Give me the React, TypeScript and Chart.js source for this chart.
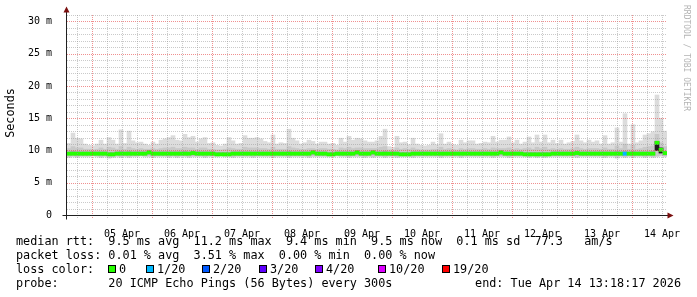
import React, { useEffect, useRef } from "react";
import { Chart, registerables } from "chart.js";

Chart.register(...registerables);

// ---- data (time axis in hours from Apr 04 14:00, bins of 1.6 h) ----
const BIN_HOURS = 1.6;
const TOTAL_HOURS = 240;

const dayLabels = ["05 Apr", "06 Apr", "07 Apr", "08 Apr", "09 Apr", "10 Apr", "11 Apr", "12 Apr", "13 Apr", "14 Apr"];
const yTickLabels = ["0", "5 m", "10 m", "15 m", "20 m", "25 m", "30 m"];

const smokeMax = [
  11.1, 12.7, 11.9, 11.8, 11.0, 10.8, 10.7, 11.0, 11.6, 11.0,
  12.0, 11.6, 11.0, 13.2, 11.1, 13.0, 11.5, 11.2, 11.3, 11.0,
  10.8, 11.3, 11.0, 11.6, 11.8, 12.0, 12.3, 11.6, 11.5, 12.5,
  12.0, 12.2, 11.3, 11.8, 12.0, 11.1, 11.2, 10.8, 10.7, 11.0,
  12.0, 11.5, 11.0, 11.1, 12.3, 11.9, 11.9, 12.0, 11.8, 11.4,
  11.2, 12.4, 11.0, 11.2, 11.1, 13.3, 11.9, 11.5, 11.0, 11.2,
  11.6, 11.4, 11.0, 11.3, 11.3, 11.0, 11.1, 10.8, 11.9, 11.3,
  12.2, 11.6, 11.9, 11.8, 11.5, 11.3, 11.3, 11.5, 12.2, 13.3,
  10.6, 10.5, 12.2, 11.2, 11.3, 10.9, 11.9, 11.0, 10.8, 10.7,
  10.8, 11.3, 10.9, 12.6, 11.0, 11.3, 10.9, 10.8, 11.6, 11.2,
  11.5, 11.5, 11.0, 11.1, 11.3, 11.2, 12.2, 11.3, 11.6, 11.6,
  12.1, 11.2, 11.6, 11.0, 11.3, 12.1, 11.2, 12.4, 11.3, 12.4,
  11.2, 11.6, 11.1, 11.6, 11.0, 11.2, 11.4, 12.4, 11.5, 11.2,
  11.6, 11.3, 11.5, 11.0, 12.3, 11.0, 11.2, 13.5, 11.3, 15.7,
  11.0, 14.0, 11.2, 11.5, 12.4, 12.6, 12.9, 18.6, 15.0, 13.0,
];

const smokeLow = [
  8.9, 9.0, 8.9, 9.0, 9.0, 9.0, 9.1, 9.0, 8.9, 9.0,
  8.8, 8.9, 9.0, 8.9, 9.0, 8.9, 9.0, 9.0, 9.1, 9.0,
  9.0, 8.9, 9.0, 9.0, 9.0, 8.9, 9.0, 8.9, 9.0, 9.0,
  8.9, 9.0, 9.0, 9.0, 8.9, 9.0, 9.0, 9.0, 9.1, 9.0,
  9.0, 8.9, 9.0, 9.0, 9.0, 9.0, 8.9, 9.0, 9.0, 9.0,
  9.0, 8.9, 9.0, 9.0, 9.0, 8.9, 9.0, 9.0, 9.0, 9.0,
  8.9, 9.0, 9.0, 9.0, 9.0, 9.0, 9.0, 9.1, 9.0, 9.0,
  8.9, 9.0, 9.0, 9.0, 8.9, 9.0, 8.9, 9.0, 9.0, 8.9,
  9.0, 9.0, 8.9, 9.0, 9.0, 9.0, 8.9, 9.0, 9.0, 9.0,
  9.0, 9.0, 9.0, 8.9, 9.0, 9.0, 9.0, 9.0, 8.9, 9.0,
  9.0, 9.0, 9.0, 9.0, 9.0, 9.0, 8.9, 9.0, 9.0, 9.0,
  8.9, 9.0, 9.0, 9.0, 9.0, 8.9, 9.0, 8.9, 9.0, 8.9,
  9.0, 9.0, 9.0, 9.0, 9.0, 9.0, 9.0, 8.9, 9.0, 9.0,
  9.0, 9.0, 9.0, 9.0, 8.9, 9.0, 9.0, 8.8, 9.0, 8.9,
  9.0, 8.9, 9.0, 9.0, 8.9, 9.0, 8.9, 9.0, 9.1, 9.0,
];

const smokeMid = [
  10.3, 10.6, 10.4, 10.4, 10.2, 10.2, 10.1, 10.2, 10.4, 10.2,
  10.5, 10.4, 10.2, 10.6, 10.2, 10.5, 10.3, 10.2, 10.3, 10.2,
  10.2, 10.3, 10.2, 10.3, 10.4, 10.4, 10.5, 10.3, 10.3, 10.5,
  10.4, 10.4, 10.2, 10.4, 10.4, 10.2, 10.2, 10.1, 10.1, 10.2,
  10.4, 10.3, 10.2, 10.2, 10.5, 10.4, 10.4, 10.4, 10.3, 10.3,
  10.2, 10.5, 10.2, 10.2, 10.2, 10.6, 10.4, 10.3, 10.2, 10.2,
  10.3, 10.3, 10.2, 10.3, 10.3, 10.2, 10.2, 10.1, 10.4, 10.3,
  10.5, 10.3, 10.4, 10.4, 10.3, 10.3, 10.3, 10.3, 10.5, 10.6,
  10.1, 10.1, 10.4, 10.2, 10.3, 10.2, 10.4, 10.2, 10.1, 10.1,
  10.1, 10.2, 10.2, 10.5, 10.2, 10.3, 10.2, 10.1, 10.3, 10.2,
  10.3, 10.3, 10.2, 10.2, 10.3, 10.2, 10.4, 10.3, 10.3, 10.3,
  10.4, 10.2, 10.3, 10.2, 10.3, 10.4, 10.2, 10.5, 10.3, 10.5,
  10.2, 10.3, 10.2, 10.3, 10.2, 10.2, 10.3, 10.5, 10.3, 10.2,
  10.3, 10.3, 10.3, 10.2, 10.4, 10.2, 10.2, 10.7, 10.3, 11.0,
  10.2, 10.8, 10.2, 10.3, 10.5, 10.6, 10.7, 12.5, 11.2, 10.6,
];

const denseLow = [
  9.3, 9.3, 9.3, 9.3, 9.3, 9.3, 9.3, 9.3, 9.3, 9.3,
  9.2, 9.2, 9.3, 9.3, 9.3, 9.3, 9.3, 9.3, 9.3, 9.3,
  9.4, 9.3, 9.3, 9.3, 9.3, 9.3, 9.3, 9.3, 9.3, 9.3,
  9.3, 9.3, 9.3, 9.3, 9.3, 9.3, 9.3, 9.2, 9.2, 9.2,
  9.2, 9.3, 9.3, 9.3, 9.3, 9.3, 9.3, 9.3, 9.3, 9.3,
  9.3, 9.3, 9.3, 9.3, 9.3, 9.3, 9.3, 9.3, 9.3, 9.3,
  9.3, 9.4, 9.3, 9.3, 9.3, 9.2, 9.2, 9.3, 9.3, 9.3,
  9.3, 9.3, 9.4, 9.3, 9.3, 9.3, 9.4, 9.3, 9.3, 9.3,
  9.3, 9.3, 9.3, 9.2, 9.2, 9.2, 9.3, 9.3, 9.3, 9.3,
  9.3, 9.3, 9.3, 9.3, 9.3, 9.3, 9.3, 9.3, 9.3, 9.3,
  9.3, 9.3, 9.3, 9.3, 9.3, 9.3, 9.3, 9.3, 9.4, 9.3,
  9.3, 9.3, 9.3, 9.3, 9.2, 9.2, 9.2, 9.2, 9.2, 9.2,
  9.2, 9.3, 9.3, 9.3, 9.3, 9.3, 9.3, 9.3, 9.3, 9.3,
  9.3, 9.3, 9.3, 9.3, 9.3, 9.3, 9.3, 9.3, 9.3, 9.3,
  9.3, 9.3, 9.3, 9.3, 9.3, 9.3, 9.3, 10.0, 9.6, 9.3,
];

const denseHigh = [
  9.8, 9.9, 9.8, 9.8, 9.8, 9.8, 9.8, 9.8, 9.8, 9.8,
  9.7, 9.7, 9.8, 9.9, 9.8, 9.9, 9.8, 9.8, 9.8, 9.8,
  10.0, 9.8, 9.8, 9.8, 9.8, 9.8, 9.8, 9.8, 9.8, 9.9,
  9.8, 9.9, 9.8, 9.8, 9.8, 9.8, 9.8, 9.7, 9.7, 9.7,
  9.7, 9.8, 9.8, 9.8, 9.8, 9.8, 9.8, 9.8, 9.8, 9.8,
  9.8, 9.8, 9.8, 9.8, 9.8, 9.9, 9.8, 9.8, 9.8, 9.8,
  9.8, 10.0, 9.8, 9.8, 9.8, 9.7, 9.7, 9.8, 9.8, 9.8,
  9.8, 9.8, 10.0, 9.8, 9.8, 9.8, 10.0, 9.8, 9.8, 9.9,
  9.8, 9.8, 9.8, 9.7, 9.7, 9.7, 9.8, 9.8, 9.8, 9.8,
  9.8, 9.8, 9.8, 9.8, 9.8, 9.8, 9.8, 9.8, 9.8, 9.8,
  9.8, 9.8, 9.8, 9.8, 9.8, 9.8, 9.8, 9.8, 10.0, 9.8,
  9.8, 9.8, 9.8, 9.8, 9.7, 9.7, 9.7, 9.7, 9.7, 9.7,
  9.7, 9.8, 9.8, 9.8, 9.8, 9.8, 9.8, 9.9, 9.8, 9.8,
  9.8, 9.8, 9.8, 9.8, 9.8, 9.8, 9.8, 9.9, 9.8, 9.9,
  9.8, 9.9, 9.8, 9.8, 9.8, 9.8, 9.9, 11.4, 10.4, 9.9,
];

const medianRtt = [
  9.5, 9.5, 9.5, 9.5, 9.5, 9.5, 9.5, 9.5, 9.5, 9.5,
  9.4, 9.4, 9.5, 9.5, 9.5, 9.5, 9.5, 9.5, 9.5, 9.5,
  9.7, 9.5, 9.5, 9.5, 9.5, 9.5, 9.5, 9.5, 9.5, 9.5,
  9.5, 9.6, 9.5, 9.5, 9.5, 9.5, 9.5, 9.4, 9.4, 9.4,
  9.4, 9.5, 9.5, 9.5, 9.5, 9.5, 9.5, 9.5, 9.5, 9.5,
  9.5, 9.5, 9.5, 9.5, 9.5, 9.5, 9.5, 9.5, 9.5, 9.5,
  9.5, 9.7, 9.5, 9.5, 9.5, 9.4, 9.4, 9.5, 9.5, 9.5,
  9.5, 9.5, 9.7, 9.5, 9.5, 9.5, 9.7, 9.5, 9.5, 9.5,
  9.5, 9.5, 9.5, 9.4, 9.4, 9.4, 9.5, 9.5, 9.5, 9.5,
  9.5, 9.5, 9.5, 9.5, 9.5, 9.5, 9.5, 9.5, 9.5, 9.5,
  9.5, 9.5, 9.5, 9.5, 9.5, 9.5, 9.5, 9.5, 9.7, 9.5,
  9.5, 9.5, 9.5, 9.5, 9.4, 9.4, 9.4, 9.4, 9.4, 9.4,
  9.4, 9.5, 9.5, 9.5, 9.5, 9.5, 9.5, 9.6, 9.5, 9.5,
  9.5, 9.5, 9.5, 9.5, 9.5, 9.5, 9.5, 9.5, 9.5, 9.5,
  9.5, 9.5, 9.5, 9.5, 9.5, 9.5, 9.5, 11.2, 10.1, 9.6,
];

// lost pings out of 20 per bin
const lossCount = [
  0, 0, 0, 0, 0, 0, 0, 0, 0, 0,
  0, 0, 0, 0, 0, 0, 0, 0, 0, 0,
  0, 0, 0, 0, 0, 0, 0, 0, 0, 0,
  0, 0, 0, 0, 0, 0, 0, 0, 0, 0,
  0, 0, 0, 0, 0, 0, 0, 0, 0, 0,
  0, 0, 0, 0, 0, 0, 0, 0, 0, 0,
  0, 0, 0, 0, 0, 0, 0, 0, 0, 0,
  0, 0, 0, 0, 0, 0, 0, 0, 0, 0,
  0, 0, 0, 0, 0, 0, 0, 0, 0, 0,
  0, 0, 0, 0, 0, 0, 0, 0, 0, 0,
  0, 0, 0, 0, 0, 0, 0, 0, 0, 0,
  0, 0, 0, 0, 0, 0, 0, 0, 0, 0,
  0, 0, 0, 0, 0, 0, 0, 0, 0, 0,
  0, 0, 0, 0, 0, 0, 0, 0, 0, 1,
  0, 0, 0, 0, 0, 0, 0, 0, 0, 0,
];

const lossLevels = [0, 1, 2, 3, 4, 10, 19];
const lossLabels = ["0", "1/20", "2/20", "3/20", "4/20", "10/20", "19/20"];
const lossColors = ["#26ff00", "#00b8ff", "#0059ff", "#5e00ff", "#7e00ff", "#dd00ff", "#ff0000"];

const legendRtt = "median rtt:  9.5 ms avg  11.2 ms max  9.4 ms min  9.5 ms now  0.1 ms sd  77.3   am/s";
const legendLoss = "packet loss: 0.01 % avg  3.51 % max  0.00 % min  0.00 % now";
const legendProbe = "probe:       20 ICMP Echo Pings (56 Bytes) every 300s";
const legendEnd = "end: Tue Apr 14 13:18:17 2026";

// ---- styles ----
const MONO = '"DejaVu Sans Mono", monospace';
const MEDIAN_HALF = 0.24;
const GRID_GRAY = "rgba(150,150,150,0.5)";
const GRID_RED = "rgba(230,70,70,0.6)";

function lossColorFor(n: number): string {
  let c = lossColors[0];
  lossLevels.forEach((lv, k) => {
    if (n >= lv) c = lossColors[k];
  });
  return c;
}

const binX = (i: number) => (i + 0.5) * BIN_HOURS;
const band = (lo: number[], hi: number[]) => lo.map((l, i) => ({ x: binX(i), y: [l, hi[i]] }));

const isMidnight = (h: number) => (h - 10) % 24 === 0;

const gridPlugin = {
  id: "dottedGrid",
  afterDatasetsDraw(chart: any) {
    const ctx: CanvasRenderingContext2D = chart.ctx;
    const { left, right, top, bottom } = chart.chartArea;
    const xs = chart.scales.x;
    const ys = chart.scales.y;
    ctx.save();
    ctx.lineWidth = 1;
    ctx.setLineDash([1, 1]);
    ys.ticks.forEach((t: any) => {
      if (t.value === 0) return;
      const y = Math.round(ys.getPixelForValue(t.value)) + 0.5;
      ctx.strokeStyle = t.value % 5 === 0 ? GRID_RED : GRID_GRAY;
      ctx.beginPath();
      ctx.moveTo(left, y);
      ctx.lineTo(right, y);
      ctx.stroke();
    });
    xs.ticks.forEach((t: any) => {
      const x = Math.round(xs.getPixelForValue(t.value)) + 0.5;
      ctx.strokeStyle = isMidnight(t.value) ? GRID_RED : GRID_GRAY;
      ctx.beginPath();
      ctx.moveTo(x, top);
      ctx.lineTo(x, bottom + 4);
      ctx.stroke();
    });
    ctx.restore();
  },
};

const decorPlugin = {
  id: "decor",
  afterDraw(chart: any) {
    const ctx: CanvasRenderingContext2D = chart.ctx;
    const { left, right, bottom } = chart.chartArea;
    ctx.save();
    const ax = Math.round(left) - 0.5;
    const ay = Math.round(bottom) + 0.5;
    ctx.strokeStyle = "#202020";
    ctx.lineWidth = 1;
    ctx.beginPath();
    ctx.moveTo(ax, 10);
    ctx.lineTo(ax, ay + 4);
    ctx.moveTo(ax - 4, ay);
    ctx.lineTo(right + 1, ay);
    ctx.stroke();
    ctx.fillStyle = "#7a0f0f";
    ctx.beginPath();
    ctx.moveTo(ax, 6.5);
    ctx.lineTo(ax - 3, 12.5);
    ctx.lineTo(ax + 3, 12.5);
    ctx.closePath();
    ctx.fill();
    ctx.beginPath();
    ctx.moveTo(right + 6.5, ay);
    ctx.lineTo(right + 0.5, ay - 3);
    ctx.lineTo(right + 0.5, ay + 3);
    ctx.closePath();
    ctx.fill();

    ctx.fillStyle = "#000";
    ctx.font = `11.8px ${MONO}`;
    ctx.textAlign = "center";
    ctx.textBaseline = "middle";
    ctx.save();
    ctx.translate(11, 113);
    ctx.rotate(-Math.PI / 2);
    ctx.fillText("Seconds", 0, 0);
    ctx.restore();

    ctx.save();
    ctx.fillStyle = "#b4b4b4";
    ctx.font = `8px ${MONO}`;
    ctx.translate(686, 5);
    ctx.rotate(Math.PI / 2);
    ctx.textAlign = "left";
    ctx.textBaseline = "middle";
    ctx.fillText("RRDTOOL / TOBI OETIKER", 0, 0);
    ctx.restore();

    ctx.fillStyle = "#000";
    ctx.font = `11.8px ${MONO}`;
    ctx.textAlign = "left";
    ctx.textBaseline = "alphabetic";
    ctx.fillText(legendRtt, 16, 245);
    ctx.fillText(legendLoss, 16, 259);
    ctx.fillText("loss color:", 16, 273);
    const boxX = [108, 146, 202, 259, 315, 378, 442];
    lossLabels.forEach((lab, k) => {
      const bx = boxX[k];
      ctx.fillStyle = lossColors[k];
      ctx.fillRect(bx, 265, 8, 8);
      ctx.strokeStyle = "#000";
      ctx.strokeRect(bx + 0.5, 265.5, 7, 7);
      ctx.fillStyle = "#000";
      ctx.fillText(lab, bx + 11, 273);
    });
    ctx.fillText(legendProbe, 16, 287);
    ctx.textAlign = "right";
    ctx.fillText(legendEnd, 681, 287);
    ctx.restore();
  },
};

export default function App() {
  const ref = useRef<HTMLCanvasElement | null>(null);

  useEffect(() => {
    document.body.style.margin = "0";
    const canvas = ref.current;
    if (!canvas) return;

    const xTicks: number[] = [];
    for (let h = 4; h < TOTAL_HOURS; h += 6) xTicks.push(h);
    const yTicks: number[] = [];
    for (let v = 0; v <= 31; v += 1) yTicks.push(v);

    const chart = new Chart(canvas, {
      type: "bar",
      data: {
        datasets: [
          {
            label: "median",
            data: band(medianRtt.map((m) => m - MEDIAN_HALF), medianRtt.map((m) => m + MEDIAN_HALF)),
            backgroundColor: lossCount.map(lossColorFor),
          },
          {
            label: "dense",
            data: band(denseLow, denseHigh),
            backgroundColor: denseLow.map((l, i) => (denseHigh[i] - l > 0.8 ? "#1c1c1c" : "#a9a9a9")),
          },
          {
            label: "mid",
            data: band(smokeLow.map((l) => l + 0.15), smokeMid),
            backgroundColor: "#c8c8c8",
          },
          {
            label: "smoke",
            data: band(smokeLow, smokeMax),
            backgroundColor: "#dcdcdc",
          },
        ] as any,
      },
      options: {
        animation: false,
        responsive: false,
        maintainAspectRatio: false,
        devicePixelRatio: 1,
        events: [],
        layout: { padding: { left: 0, right: 30, top: 15, bottom: 0 } },
        plugins: { legend: { display: false }, tooltip: { enabled: false } },
        datasets: {
          bar: {
            grouped: false,
            barPercentage: 1,
            categoryPercentage: 1,
            borderWidth: 0,
          },
        } as any,
        scales: {
          x: {
            type: "linear",
            min: 0,
            max: TOTAL_HOURS,
            offset: false,
            border: { display: false },
            grid: { display: false, offset: false },
            afterBuildTicks: (s: any) => {
              s.ticks = xTicks.map((v) => ({ value: v }));
            },
            afterFit: (s: any) => {
              s.height = 82;
            },
            ticks: {
              autoSkip: false,
              maxRotation: 0,
              minRotation: 0,
              padding: 5,
              color: "#000",
              font: { family: MONO, size: 10 },
              callback: (v: any) => {
                const n = Number(v);
                if ((n - 22) % 24 === 0) return dayLabels[(n - 22) / 24] ?? "";
                return "";
              },
            },
          },
          y: {
            type: "linear",
            min: 0,
            max: 31,
            border: { display: false },
            grid: { display: false },
            afterBuildTicks: (s: any) => {
              s.ticks = yTicks.map((v) => ({ value: v }));
            },
            afterFit: (s: any) => {
              s.width = 67;
            },
            ticks: {
              autoSkip: false,
              padding: 7,
              color: "#000",
              font: { family: MONO, size: 10 },
              callback: (v: any) => {
                const n = Number(v);
                return n % 5 === 0 ? yTickLabels[n / 5] ?? "" : "";
              },
            },
          },
        },
      } as any,
      plugins: [gridPlugin, decorPlugin],
    });

    return () => chart.destroy();
  }, []);

  return (
    <div style={{ position: "absolute", left: 0, top: 0, width: 697, height: 297, background: "#fff" }}>
      <canvas ref={ref} width={697} height={297} style={{ width: 697, height: 297, display: "block" }} />
    </div>
  );
}
